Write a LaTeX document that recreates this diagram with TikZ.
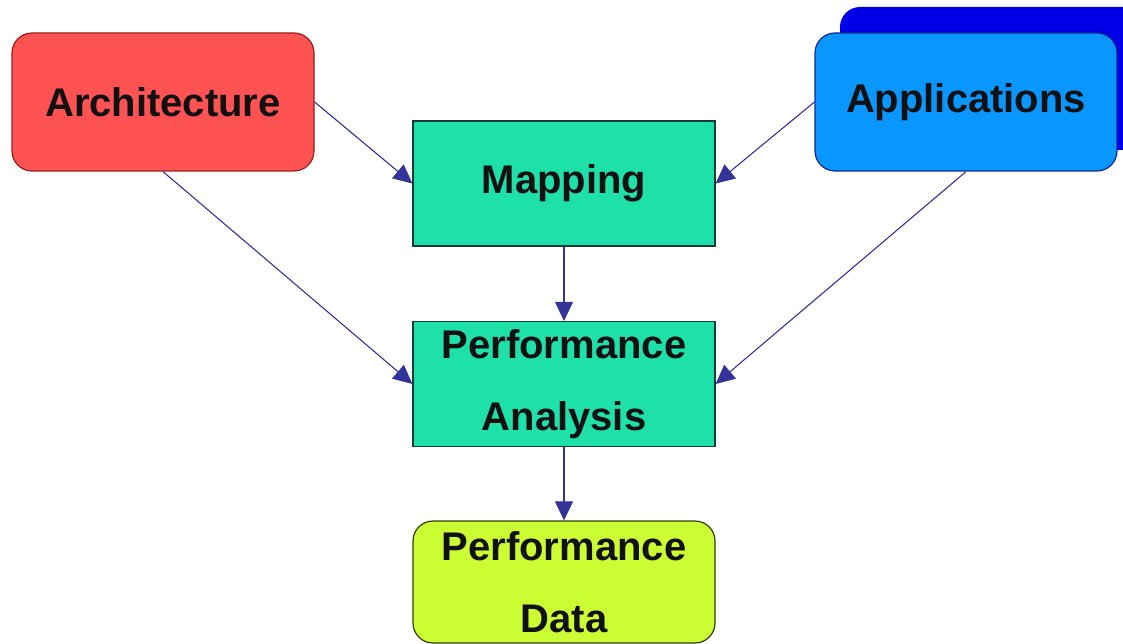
\documentclass[tikz,border=0pt]{standalone}
\usepackage{fontspec}
\setmainfont{Liberation Sans}
\usetikzlibrary{arrows.meta}
\definecolor{archred}{RGB}{255,82,82}
\definecolor{archedge}{RGB}{150,30,30}
\definecolor{appblue}{RGB}{10,150,255}
\definecolor{appback}{RGB}{0,0,230}
\definecolor{appedge}{RGB}{20,40,140}
\definecolor{stagegreen}{RGB}{30,225,170}
\definecolor{stageedge}{RGB}{20,60,60}
\definecolor{datalime}{RGB}{204,255,51}
\definecolor{dataedge}{RGB}{50,60,20}
\definecolor{flowblue}{RGB}{51,51,153}
\definecolor{labelink}{RGB}{17,17,17}
\tikzset{
  boxbase/.style={draw, line width=1.2pt, minimum width=302pt, align=center,
    font=\fontsize{40}{72}\selectfont\bfseries, text=labelink, inner sep=0pt},
  source/.style={boxbase, rounded corners=20pt, minimum height=138pt},
  stage/.style={boxbase, fill=stagegreen, draw=stageedge, minimum height=125pt},
  result/.style={boxbase, fill=datalime, draw=dataedge, rounded corners=20pt, minimum height=122pt},
  flow/.style={draw=flowblue, line width=1.1pt, -{Triangle[length=19pt,width=18pt]}}
}
\begin{document}
\begin{tikzpicture}[x=1pt,y=-1pt]
  \useasboundingbox (0,0) rectangle (1123,644);
  \clip (0,0) rectangle (1123,644);
  % layered look of the applications box
  \fill[appback, rounded corners=20pt] (840,7) rectangle (1160,150);
  \node[source, fill=archred, draw=archedge] (arch) at (163,102) {Architecture};
  \node[source, fill=appblue, draw=appedge] (apps) at (966,102) {Applications};
  \node[stage] (map) at (564,183.5) {Mapping};
  \node[stage] (perf) at (564,384) {Performance\\Analysis};
  \node[result] (data) at (564,582) {Performance\\Data};
  % connectors
  \draw[flow] (arch.east) -- (map.west);
  \draw[flow] (arch.south) -- (perf.west);
  \draw[flow] (apps.west) -- (map.east);
  \draw[flow] (apps.south) -- (perf.east);
  \draw[flow] (map.south) -- (perf.north);
  \draw[flow] (perf.south) -- (data.north);
\end{tikzpicture}
\end{document}
